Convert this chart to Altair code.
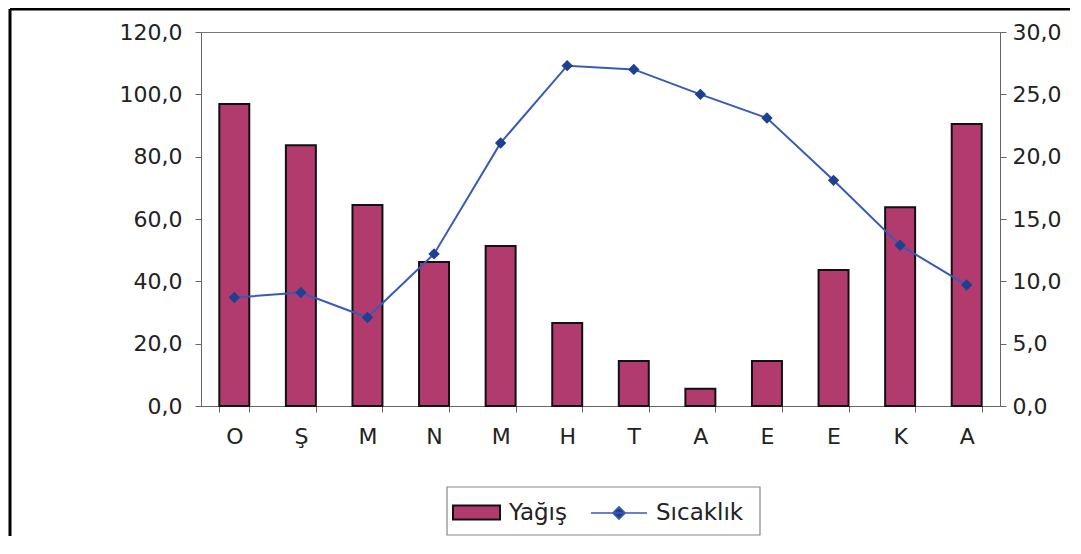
import altair as alt
import pandas as pd

months = ["O", "Ş", "M", "N", "M", "H", "T", "A", "E", "E", "K", "A"]
precip = [96.9, 83.7, 64.5, 46.2, 51.3, 26.6, 14.4, 5.5, 14.4, 43.6, 63.8, 90.5]
temp = [8.7, 9.1, 7.1, 12.2, 21.1, 27.3, 27.0, 25.0, 23.1, 18.1, 12.9, 9.7]
left_ticks = [0, 20, 40, 60, 80, 100, 120]
right_ticks = [0, 5, 10, 15, 20, 25, 30]
series = ["Yağış", "Sıcaklık"]

df = pd.DataFrame({"idx": list(range(len(months))), "month": months,
                   "precip": precip, "temp": temp})

BAR = "#B23B6E"
LINE = "#3A5BB5"
MARK = "#1F3F91"
FONT = "DejaVu Sans"

month_arr = "[" + ",".join("'%s'" % m for m in months) + "]"
num_expr = "replace(format(datum.value, '.1f'), '.', ',')"

x = alt.X("idx:O", scale=alt.Scale(paddingInner=0.55, paddingOuter=0.275),
          axis=alt.Axis(title=None, labelExpr=month_arr + "[datum.value]",
                        labelAngle=0, labelFontSize=22, labelPadding=14,
                        tickBand="extent", tickSize=6, domainColor="#666",
                        tickColor="#666", labelColor="#222", labelFont=FONT))

legend_common = dict(orient="none", direction="horizontal", title=None,
                     padding=0, labelFontSize=23, labelFont=FONT,
                     labelColor="#222", labelOffset=8)

bar_legend = alt.Legend(legendX=251, legendY=456, symbolSize=2209,
                        symbolType="M-1,-0.3H1V0.3H-1Z",
                        symbolStrokeColor="#111", symbolStrokeWidth=2,
                        **legend_common)
line_legend = alt.Legend(legendX=389, legendY=452, symbolSize=3136,
                         symbolType="M-1,0H1M0,-0.22L0.22,0L0,0.22L-0.22,0Z",
                         symbolFillColor=MARK, symbolStrokeWidth=1.6,
                         **legend_common)

right_axis = alt.Axis(title=None, orient="right", values=right_ticks,
                      labelExpr=num_expr, labelFontSize=22, labelFont=FONT,
                      labelColor="#222", labelPadding=6, tickSize=6,
                      domainColor="#666", tickColor="#666", grid=False)
temp_scale = alt.Scale(domain=[0, 30], nice=False)

bars = alt.Chart(df).mark_bar(stroke="#111", strokeWidth=2).encode(
    x=x,
    y=alt.Y("precip:Q", scale=alt.Scale(domain=[0, 120], nice=False),
            axis=alt.Axis(title=None, values=left_ticks, labelExpr=num_expr,
                          labelFontSize=22, labelFont=FONT, labelColor="#222",
                          labelPadding=13, tickSize=6, domainColor="#666",
                          tickColor="#666", grid=False)),
    fill=alt.Fill("s:N", scale=alt.Scale(domain=[series[0]], range=[BAR]),
                  legend=bar_legend),
).transform_calculate(s="'%s'" % series[0])

line = alt.Chart(df).mark_line(strokeWidth=2).encode(
    x=x,
    y=alt.Y("temp:Q", scale=temp_scale, axis=right_axis),
    stroke=alt.Stroke("s:N", scale=alt.Scale(domain=[series[1]], range=[LINE]),
                      legend=line_legend),
).transform_calculate(s="'%s'" % series[1])

points = alt.Chart(df).mark_point(shape="diamond", filled=True, size=130,
                                   color=MARK, opacity=1).encode(
    x=x,
    y=alt.Y("temp:Q", scale=temp_scale, axis=right_axis),
)

one = alt.Data(values=[{}])
frame_v = alt.Chart(one).mark_rule(color="#000", strokeWidth=3).encode(
    x=alt.value(-191), y=alt.value(-23), y2=alt.value(530))
frame_h = alt.Chart(one).mark_rule(color="#000", strokeWidth=3).encode(
    x=alt.value(-191), x2=alt.value(880), y=alt.value(-23))
legend_box = alt.Chart(one).mark_rect(fill=None, stroke="#888", strokeWidth=1.2).encode(
    x=alt.value(246), x2=alt.value(559), y=alt.value(455), y2=alt.value(503))

temp_layer = alt.layer(line, points)

chart = alt.layer(bars, temp_layer, frame_v, frame_h, legend_box).resolve_scale(
    y="independent"
).properties(
    width=799, height=374,
    padding={"left": 193, "top": 24, "right": 70, "bottom": 130},
    autosize=alt.AutoSizeParams(type="none"),
    background="white",
).configure_view(stroke="#777", strokeWidth=1)

chart.save("out.html", embed_options={"renderer": "svg", "actions": False})
